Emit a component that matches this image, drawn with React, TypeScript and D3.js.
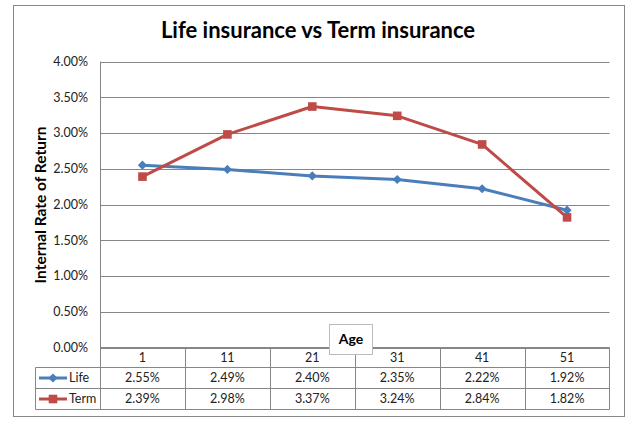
import { scaleBand, scaleLinear, line, format } from 'd3'

// Life vs Term insurance IRR by age — line chart with an Excel-style data table below it.

const ages = ['1', '11', '21', '31', '41', '51']
const lifeValues = [2.55, 2.49, 2.4, 2.35, 2.22, 1.92]
const termValues = [2.39, 2.98, 3.37, 3.24, 2.84, 1.82]
const yTicks = [0, 0.5, 1, 1.5, 2, 2.5, 3, 3.5, 4]

const W = 641
const H = 428
const PLOT = { left: 100, right: 609.5, top: 61.5, bottom: 347.5 }
const TABLE_LEFT = 35.5
const ROW_LINES = [347.5, 367.5, 388.5, 409.5]
const FONT = 'Lato, "Open Sans", sans-serif'
const BLUE = '#4A7EBB'
const RED = '#BE4B48'
const GRID = '#868686'
const LABEL_SIZE = 12.5

const series = [
  { name: 'Life', values: lifeValues, color: BLUE, marker: 'diamond' },
  { name: 'Term', values: termValues, color: RED, marker: 'square' },
]

const pct = format('.2f')

function Marker({ kind, x, y, color }: { kind: string; x: number; y: number; color: string }) {
  if (kind === 'diamond') {
    const r = 4.6
    return <path d={`M${x},${y - r}L${x + r},${y}L${x},${y + r}L${x - r},${y}Z`} fill={color} />
  }
  const s = 4.3
  return <rect x={x - s} y={y - s} width={s * 2} height={s * 2} fill={color} />
}

export default function App() {
  const x = scaleBand().domain(ages).range([PLOT.left, PLOT.right])
  const y = scaleLinear().domain([0, 4]).range([PLOT.bottom, PLOT.top])
  const cx = (a: string) => (x(a) ?? 0) + x.bandwidth() / 2
  const path = line<number>()
    .x((_, i) => cx(ages[i]))
    .y((d) => y(d))

  const colEdges = [...ages.map((a) => Math.round(x(a) ?? 0) + 0.5), Math.round(PLOT.right) - 0.5]
  const rowMid = (i: number) => (ROW_LINES[i] + ROW_LINES[i + 1]) / 2

  return (
    <svg width={W} height={H} style={{ position: 'absolute', left: 0, top: 0 }} fontFamily={FONT}>
      <rect x={0} y={0} width={W} height={H} fill="#fff" />
      <rect x={13.5} y={5.5} width={611} height={411} fill="#fff" stroke="#888" />

      <text x={318} y={38} textAnchor="middle" fontSize={22} fontWeight="bold" fill="#000">
        Life insurance vs Term insurance
      </text>

      {/* gridlines + y axis */}
      {yTicks.map((t) => (
        <g key={t}>
          <line x1={PLOT.left} x2={PLOT.right} y1={Math.round(y(t)) + 0.5} y2={Math.round(y(t)) + 0.5} stroke={GRID} />
          <text x={88} y={y(t)} dy="0.35em" textAnchor="end" fontSize={LABEL_SIZE} fill="#222">
            {pct(t)}%
          </text>
        </g>
      ))}
      <line x1={PLOT.left + 0.5} x2={PLOT.left + 0.5} y1={PLOT.top} y2={PLOT.bottom} stroke={GRID} />

      <text
        transform={`translate(45.5, 205) rotate(-90)`}
        textAnchor="middle"
        fontSize={15.5}
        fontWeight="bold"
        fill="#000"
      >
        Internal Rate of Return
      </text>

      {/* series */}
      {series.map((s) => (
        <g key={s.name}>
          <path d={path(s.values) ?? ''} fill="none" stroke={s.color} strokeWidth={3} strokeLinejoin="round" />
          {s.values.map((v, i) => (
            <Marker key={i} kind={s.marker} x={cx(ages[i])} y={y(v)} color={s.color} />
          ))}
        </g>
      ))}

      {/* data table */}
      <g stroke={GRID} fill="none">
        <line x1={PLOT.left} x2={PLOT.right} y1={ROW_LINES[0]} y2={ROW_LINES[0]} />
        <line x1={TABLE_LEFT} x2={PLOT.right} y1={ROW_LINES[1]} y2={ROW_LINES[1]} />
        <line x1={TABLE_LEFT} x2={PLOT.right} y1={ROW_LINES[2]} y2={ROW_LINES[2]} />
        <line x1={TABLE_LEFT} x2={PLOT.right} y1={ROW_LINES[3]} y2={ROW_LINES[3]} />
        <line x1={TABLE_LEFT} x2={TABLE_LEFT} y1={ROW_LINES[1]} y2={ROW_LINES[3]} />
        {colEdges.map((e, i) => (
          <line key={i} x1={e} x2={e} y1={ROW_LINES[0]} y2={ROW_LINES[3]} />
        ))}
      </g>
      {ages.map((a) => (
        <text key={a} x={cx(a)} y={rowMid(0)} dy="0.35em" textAnchor="middle" fontSize={LABEL_SIZE} fill="#222">
          {a}
        </text>
      ))}
      {series.map((s, r) => (
        <g key={s.name}>
          <line x1={39} x2={67} y1={rowMid(r + 1)} y2={rowMid(r + 1)} stroke={s.color} strokeWidth={3} />
          <Marker kind={s.marker} x={53} y={rowMid(r + 1)} color={s.color} />
          <text x={69} y={rowMid(r + 1)} dy="0.35em" fontSize={LABEL_SIZE} fill="#222">
            {s.name}
          </text>
          {s.values.map((v, i) => (
            <text key={i} x={cx(ages[i])} y={rowMid(r + 1)} dy="0.35em" textAnchor="middle" fontSize={LABEL_SIZE} fill="#222">
              {pct(v)}%
            </text>
          ))}
        </g>
      ))}

      {/* axis title box */}
      <rect x={329.5} y={324.5} width={43} height={30} fill="#fff" stroke="#bbb" />
      <text x={351} y={339.5} dy="0.35em" textAnchor="middle" fontSize={14} fontWeight="bold" fill="#000">
        Age
      </text>
    </svg>
  )
}
